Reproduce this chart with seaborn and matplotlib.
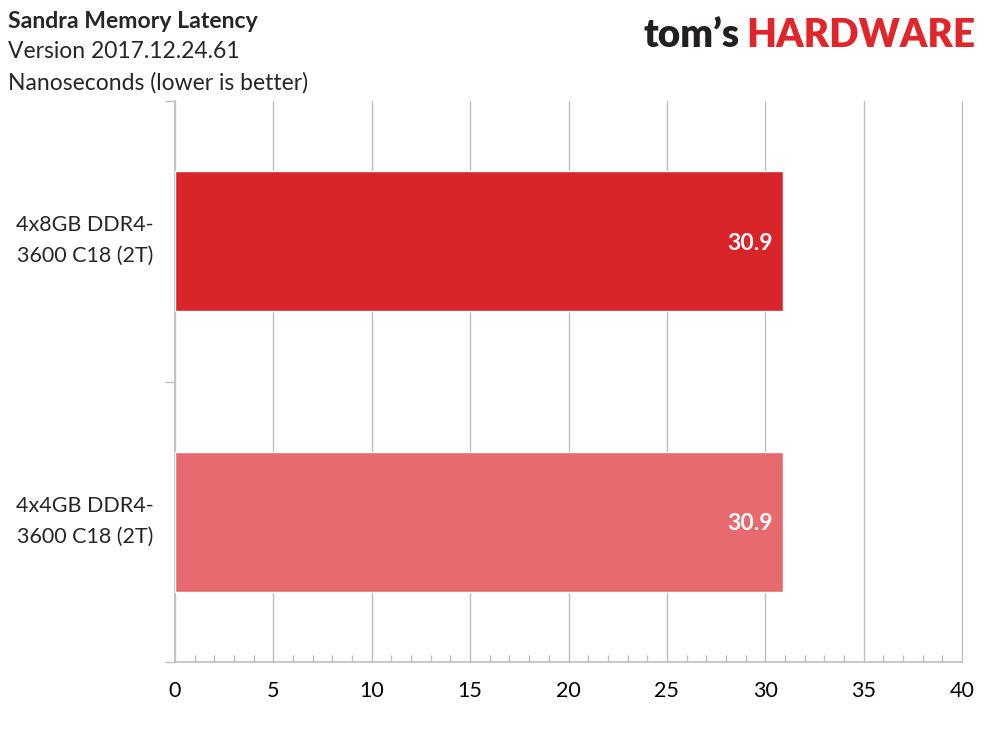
import matplotlib
matplotlib.use("Agg")
import matplotlib.pyplot as plt
import matplotlib.transforms as mtransforms
import seaborn as sns
import pandas as pd
import numpy as np
from matplotlib.ticker import MultipleLocator, FixedLocator

categories = ["4x8GB DDR4-\n3600 C18 (2T)", "4x4GB DDR4-\n3600 C18 (2T)"]
values = [30.9, 30.9]
value_labels = ["30.9", "30.9"]
bar_colors = ["#D9252A", "#E76B6E"]
x_ticks = [0, 5, 10, 15, 20, 25, 30, 35, 40]

sns.set_theme(style="white")
plt.rcParams['font.family'] = ['Lato', 'DejaVu Sans']

df = pd.DataFrame({"config": categories, "ns": values})

W, H = 989, 742
fig = plt.figure(figsize=(W/100, H/100), dpi=100)
ax = fig.add_axes([175/W, 80/H, 787/W, 561/H])

sns.barplot(data=df, y="config", x="ns", hue="config", palette=bar_colors,
            orient="h", width=0.5, ax=ax, legend=False, saturation=1, zorder=3)

ax.set_xlim(0, 40)
ax.set_ylim(1.5, -0.5)
ax.set_xlabel("")
ax.set_ylabel("")

grid_c = "#BFBFBF"
ax.xaxis.set_major_locator(FixedLocator(x_ticks))
ax.xaxis.set_minor_locator(MultipleLocator(1))
ax.grid(axis="x", which="major", color=grid_c, linewidth=1, zorder=0)
for gl in ax.get_xgridlines():
    gl.set_clip_on(False)
ax.set_axisbelow(True)
ax.tick_params(axis="x", which="major", length=0, pad=14, labelsize=15.5, colors="black")
ax.tick_params(axis="x", which="minor", direction="in", length=5, width=1, color=grid_c, bottom=True)
ax.set_xticklabels([str(t) for t in x_ticks])

# category labels: drawn as two centred lines per category (baselines as in the reference)
ax.yaxis.set_minor_locator(FixedLocator([-0.5, 0.5, 1.5]))
ax.set_yticks([0, 1])
ax.set_yticklabels(["", ""])
ax.tick_params(axis="y", which="major", length=0)
ax.tick_params(axis="y", which="minor", direction="out", length=7, width=1, color=grid_c, left=True)
base = mtransforms.blended_transform_factory(ax.transAxes, ax.transData)
lab_x = (85 - 175) / 787
for i, cat in enumerate(categories):
    l1, l2 = cat.split("\n")
    ax.text(lab_x, i, l1, fontsize=15.5, ha="center", va="baseline", clip_on=False,
            transform=mtransforms.offset_copy(base, fig=fig, y=10, units="dots"))
    ax.text(lab_x, i, l2, fontsize=15.5, ha="center", va="baseline", clip_on=False,
            transform=mtransforms.offset_copy(base, fig=fig, y=-21, units="dots"))

for s in ["top", "right"]:
    ax.spines[s].set_visible(False)
for s in ["left", "bottom"]:
    ax.spines[s].set_color(grid_c)
    ax.spines[s].set_linewidth(1.2)

for i, (v, lab) in enumerate(zip(values, value_labels)):
    ax.text(v - 0.5, i, lab, ha="right", va="center_baseline", color="white",
            fontsize=16.5, fontweight="bold", zorder=5)

fig.canvas.draw()
r = fig.canvas.get_renderer()

def fit_width(t, width):
    w = t.get_window_extent(r).width
    t.set_fontsize(t.get_fontsize() * width / w)
    return t

title = fig.text(8/W, 1 - 22/H, "Sandra Memory Latency", fontsize=16, fontweight="bold", va="center", ha="left")
fit_width(title, 250)
fig.text(8/W, 1 - 52/H, "Version 2017.12.24.61", fontsize=16.5, va="center", ha="left")
fig.text(8/W, 1 - 83/H, "Nanoseconds (lower is better)", fontsize=16.5, va="center", ha="left")

# logo: fit each word to its width in the reference
def logo_word(x0, width, s, color):
    t = fig.text(x0/W, 1 - 47/H, s, fontsize=30, fontweight="heavy", color=color,
                 ha="left", va="baseline")
    return fit_width(t, width)
logo_word(644, 96, "tom\u2019s", "#231F20")
logo_word(746, 229, "HARDWARE", "#E0252B")

fig.savefig("out.png", dpi=100)
